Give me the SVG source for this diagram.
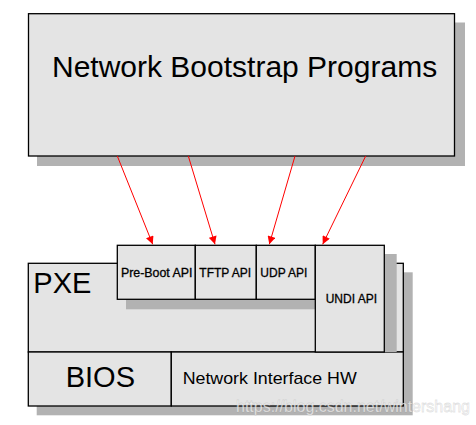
<svg xmlns="http://www.w3.org/2000/svg" width="476" height="425" viewBox="0 0 476 425">
<style>
.box{fill:#e4e4e4;stroke:#000;stroke-width:1.3}
.sh{fill:#b2b2b2}
.t{font-family:"Liberation Sans",Arial,sans-serif;fill:#000}
.s{stroke:#000;stroke-width:0.3}
.arr{stroke:#ff0000;stroke-width:1;fill:none;marker-end:url(#ah)}
</style>
<defs>
<marker id="ah" viewBox="0 0 10 10" refX="10" refY="5" markerUnits="userSpaceOnUse" markerWidth="9" markerHeight="8" orient="auto">
<path d="M0,0 L10,5 L0,10 Z" fill="#ff0000"/>
</marker>
</defs>
<g id="nbp">
<rect class="sh" x="37" y="22.5" width="428" height="143.5"/>
<rect class="box" x="28.5" y="13.7" width="426" height="142.3"/>
<text class="t" x="52" y="77" font-size="30">Network Bootstrap Programs</text>
</g>
<g id="pxe">
<rect class="sh" x="36.7" y="272.3" width="376" height="143"/>
<rect class="box" x="28.3" y="263.3" width="375" height="88.7"/>
<text class="t" x="33.3" y="293.3" font-size="29">PXE</text>
</g>
<g id="bios">
<rect class="box" x="28.3" y="352" width="143" height="54"/>
<text class="t" x="65.7" y="387.3" font-size="29">BIOS</text>
</g>
<g id="nihw">
<rect class="box" x="171.3" y="352" width="232" height="54"/>
<text class="t" x="182.7" y="384.3" font-size="17" textLength="174" lengthAdjust="spacingAndGlyphs">Network Interface HW</text>
</g>
<rect class="sh" x="126" y="299.3" width="190" height="10"/>
<rect class="sh" x="384.3" y="254" width="12.4" height="98"/>
<g id="preboot">
<rect class="box" x="117.3" y="245.3" width="78" height="54"/>
<text class="t s" x="121" y="276.7" font-size="12" textLength="71.5" lengthAdjust="spacingAndGlyphs">Pre-Boot API</text>
</g>
<g id="tftp">
<rect class="box" x="195.3" y="245.3" width="61" height="54"/>
<text class="t s" x="199.3" y="276.7" font-size="12">TFTP API</text>
</g>
<g id="udp">
<rect class="box" x="256.3" y="245.3" width="59" height="54"/>
<text class="t s" x="260.3" y="276.7" font-size="12">UDP API</text>
</g>
<g id="undi">
<rect class="box" x="315.3" y="245.3" width="69" height="106.7"/>
<text class="t s" x="325.7" y="302.7" font-size="12">UNDI API</text>
</g>
<g id="connectors">
<line class="arr" x1="117.3" y1="156" x2="152.7" y2="244.3"/>
<line class="arr" x1="188.3" y1="156" x2="215" y2="244.3"/>
<line class="arr" x1="295" y1="156" x2="269.3" y2="244.3"/>
<line class="arr" x1="365.7" y1="156" x2="322.7" y2="244.3"/>
</g>
<text class="t" x="236" y="411.5" font-size="16" style="fill:#ffffff;fill-opacity:0.75;stroke:#888;stroke-opacity:0.25;stroke-width:0.8">https://blog.csdn.net/wintershang</text>
</svg>
